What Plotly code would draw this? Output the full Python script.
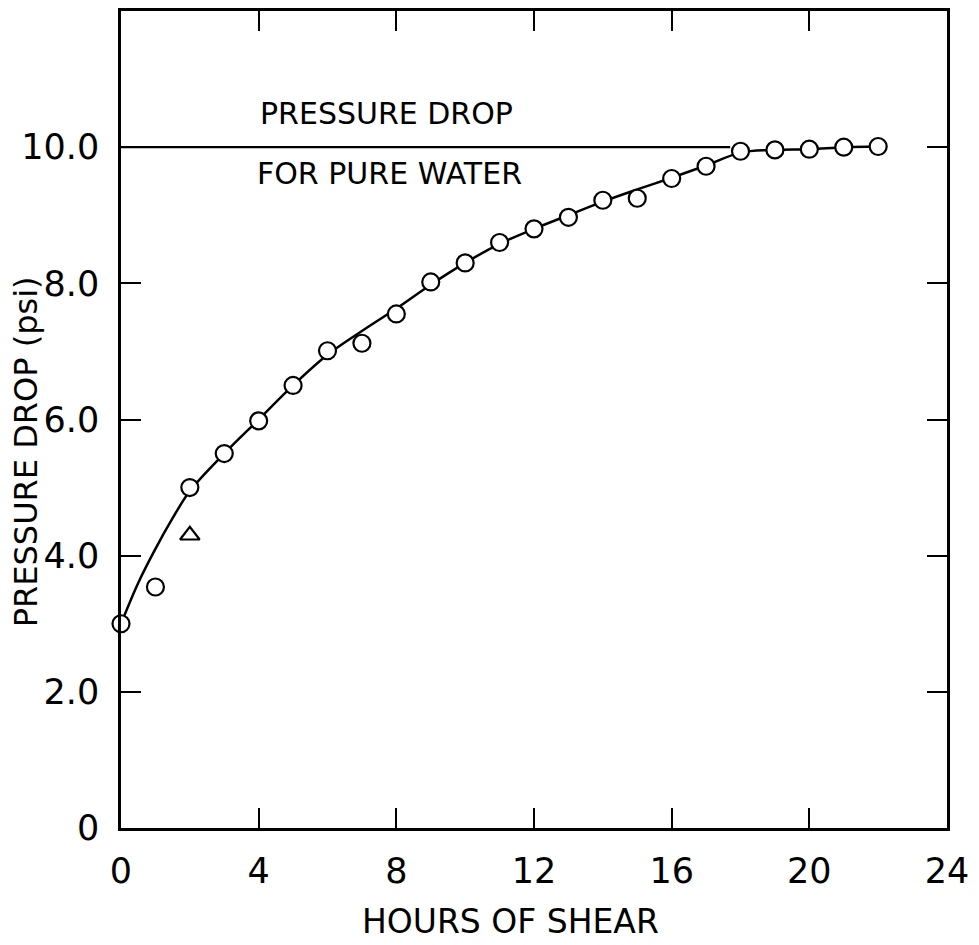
import plotly.graph_objects as go

# Measured pressure drop (psi) against hours of shear
hours = [0, 1, 2, 3, 4, 5, 6, 7, 8, 9, 10, 11, 12, 13, 14, 15, 16, 17, 18, 19, 20, 21, 22]
pressure = [3.0, 3.54, 5.0, 5.5, 5.98, 6.5, 7.01, 7.12, 7.55, 8.02, 8.3, 8.6, 8.8,
            8.97, 9.22, 9.25, 9.54, 9.72, 9.94, 9.96, 9.97, 10.0, 10.01]

# Single run plotted with a triangle
tri_hours = [2]
tri_pressure = [4.3]

# Hand-faired curve through the data
curve_hours = [0, 0.5, 1, 1.5, 2, 3, 4, 5, 6, 7, 8, 9, 10, 11, 12, 13, 14, 15, 16, 17, 18, 19, 20, 21, 22]
curve_pressure = [3.0, 3.6, 4.1, 4.55, 4.95, 5.5, 6.0, 6.5, 6.95, 7.3, 7.63, 7.98, 8.3, 8.58, 8.8,
                  9.0, 9.2, 9.38, 9.55, 9.73, 9.92, 9.96, 9.97, 10.0, 10.01]

# Reference level for pure water
water_hours = [0, 17.7]
water_pressure = [10.0, 10.0]

x_ticks = [0, 4, 8, 12, 16, 20, 24]
x_ticktext = ["0", "4", "8", "12", "16", "20", "24"]
y_ticks = [0, 2, 4, 6, 8, 10]
y_ticktext = ["0", "2.0", "4.0", "6.0", "8.0", "10.0"]

FONT = "DejaVu Sans"
INK = "black"

fig = go.Figure()

fig.add_trace(go.Scatter(
    x=water_hours, y=water_pressure, mode="lines",
    line=dict(color=INK, width=2.2), showlegend=False, hoverinfo="skip"))

fig.add_trace(go.Scatter(
    x=curve_hours, y=curve_pressure, mode="lines",
    line=dict(color=INK, width=2.5, shape="spline", smoothing=1.0),
    showlegend=False, hoverinfo="skip"))

fig.add_trace(go.Scatter(
    x=hours, y=pressure, mode="markers",
    marker=dict(symbol="circle", size=17, color="white",
                line=dict(color=INK, width=2.2)),
    showlegend=False, cliponaxis=False))

fig.add_trace(go.Scatter(
    x=tri_hours, y=tri_pressure, mode="markers",
    marker=dict(symbol="triangle-up", size=17, color="white",
                line=dict(color=INK, width=2.2)),
    showlegend=False))

fig.add_annotation(x=7.7, y=10.5, xref="x", yref="y", text="PRESSURE DROP",
                   showarrow=False, font=dict(family=FONT, size=30, color=INK),
                   xanchor="center", yanchor="middle")
fig.add_annotation(x=7.8, y=9.62, xref="x", yref="y", text="FOR PURE WATER",
                   showarrow=False, font=dict(family=FONT, size=30, color=INK),
                   xanchor="center", yanchor="middle")

# Axis titles
fig.add_annotation(x=0.472, y=-0.115, xref="paper", yref="paper", text="HOURS OF SHEAR",
                   showarrow=False, font=dict(family=FONT, size=33, color=INK),
                   xanchor="center", yanchor="middle")
fig.add_annotation(x=-0.115, y=0.46, xref="paper", yref="paper", text="PRESSURE DROP (psi)",
                   textangle=-90, showarrow=False, font=dict(family=FONT, size=32, color=INK),
                   xanchor="center", yanchor="middle")

axis_common = dict(
    showline=True, linecolor=INK, linewidth=2.5, mirror="ticks",
    ticks="inside", ticklen=20, tickwidth=2, tickcolor=INK,
    showgrid=False, zeroline=False,
    tickfont=dict(family=FONT, size=35, color=INK),
)

fig.update_xaxes(range=[0, 24], tickvals=x_ticks, ticktext=x_ticktext,
                 ticklabelstandoff=10, **axis_common)
fig.update_yaxes(range=[0, 12], tickvals=y_ticks, ticktext=y_ticktext,
                 ticklabelstandoff=12, **axis_common)

fig.update_layout(
    width=979, height=945,
    margin=dict(l=121, r=32, t=8, b=117),
    paper_bgcolor="white", plot_bgcolor="white",
    showlegend=False,
)

fig.write_html("out.html")
